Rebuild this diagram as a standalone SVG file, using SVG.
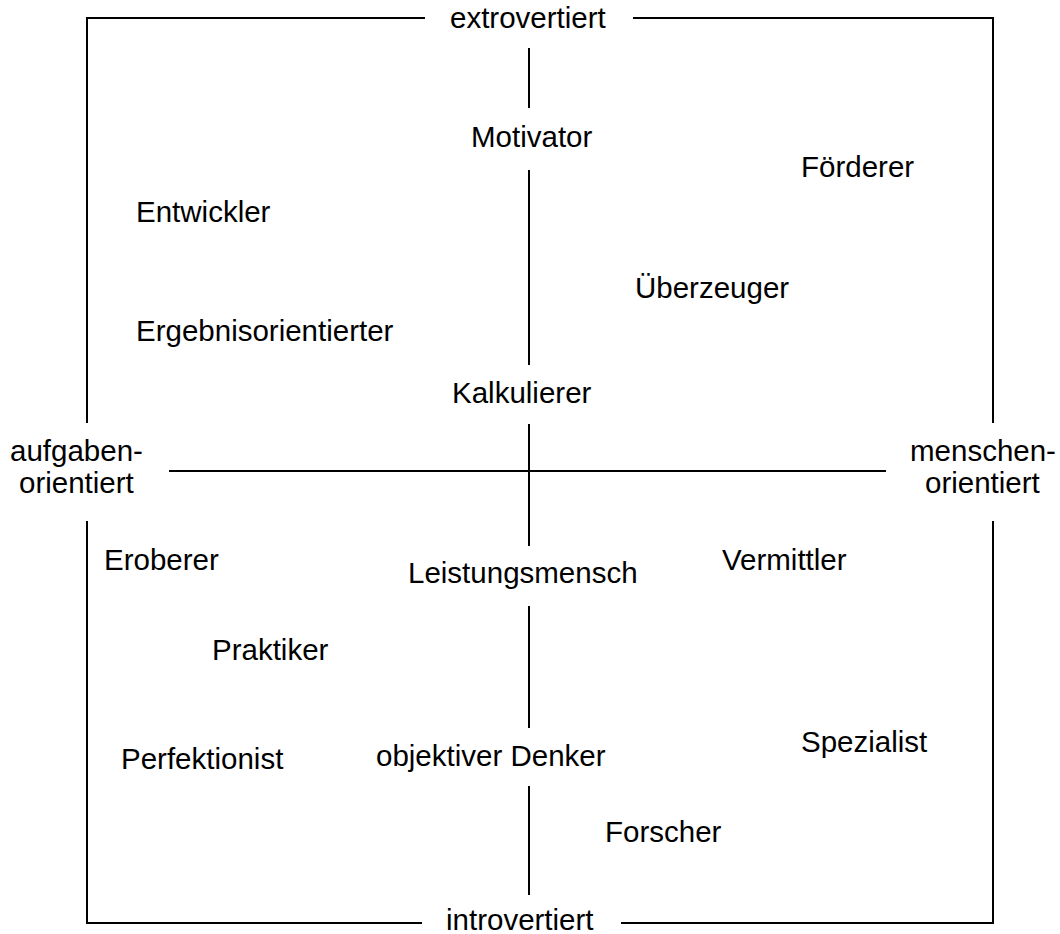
<svg xmlns="http://www.w3.org/2000/svg" width="1060" height="934" viewBox="0 0 1060 934">
  <style>
    .lbl { font-family: "Liberation Sans", Arial, sans-serif; font-size: 29.5px; fill: #000; }
    .ln { stroke: #000; stroke-width: 2; fill: none; }
  </style>
  <rect width="1060" height="934" fill="#fff"/>

  <!-- frame and axes -->
  <g id="connectors">
    <!-- outer frame, broken where the pole labels sit -->
    <path class="ln" d="M425,18 H87 V423"/>
    <path class="ln" d="M633,18 H993 V423"/>
    <path class="ln" d="M87,521 V923 H422"/>
    <path class="ln" d="M993,521 V923 H621"/>
    <!-- horizontal axis -->
    <line class="ln" x1="169" y1="471" x2="886" y2="471"/>
    <!-- vertical axis, interrupted by the central labels -->
    <line class="ln" x1="529" y1="48" x2="529" y2="108"/>
    <line class="ln" x1="529" y1="170" x2="529" y2="365"/>
    <line class="ln" x1="529" y1="424" x2="529" y2="546"/>
    <line class="ln" x1="529" y1="606" x2="529" y2="728"/>
    <line class="ln" x1="529" y1="786" x2="529" y2="895"/>
  </g>

  <!-- axis poles -->
  <g id="extrovertiert"><text class="lbl" x="450" y="28">extrovertiert</text></g>
  <g id="introvertiert"><text class="lbl" x="446" y="930">introvertiert</text></g>
  <g id="aufgabenorientiert">
    <text class="lbl" x="10" y="461">aufgaben-</text>
    <text class="lbl" x="19" y="493">orientiert</text>
  </g>
  <g id="menschenorientiert">
    <text class="lbl" x="910" y="461">menschen-</text>
    <text class="lbl" x="925" y="493">orientiert</text>
  </g>

  <!-- types -->
  <g id="motivator"><text class="lbl" x="471" y="147">Motivator</text></g>
  <g id="foerderer"><text class="lbl" x="801" y="177">Förderer</text></g>
  <g id="entwickler"><text class="lbl" x="136" y="222">Entwickler</text></g>
  <g id="ueberzeuger"><text class="lbl" x="635" y="298">Überzeuger</text></g>
  <g id="ergebnisorientierter"><text class="lbl" x="136" y="341">Ergebnisorientierter</text></g>
  <g id="kalkulierer"><text class="lbl" x="452" y="403">Kalkulierer</text></g>
  <g id="eroberer"><text class="lbl" x="104" y="570">Eroberer</text></g>
  <g id="leistungsmensch"><text class="lbl" x="408" y="583">Leistungsmensch</text></g>
  <g id="vermittler"><text class="lbl" x="722" y="570">Vermittler</text></g>
  <g id="praktiker"><text class="lbl" x="212" y="660">Praktiker</text></g>
  <g id="spezialist"><text class="lbl" x="801" y="752">Spezialist</text></g>
  <g id="objektiver-denker"><text class="lbl" x="376" y="766">objektiver Denker</text></g>
  <g id="perfektionist"><text class="lbl" x="121" y="769">Perfektionist</text></g>
  <g id="forscher"><text class="lbl" x="605" y="842">Forscher</text></g>
</svg>
